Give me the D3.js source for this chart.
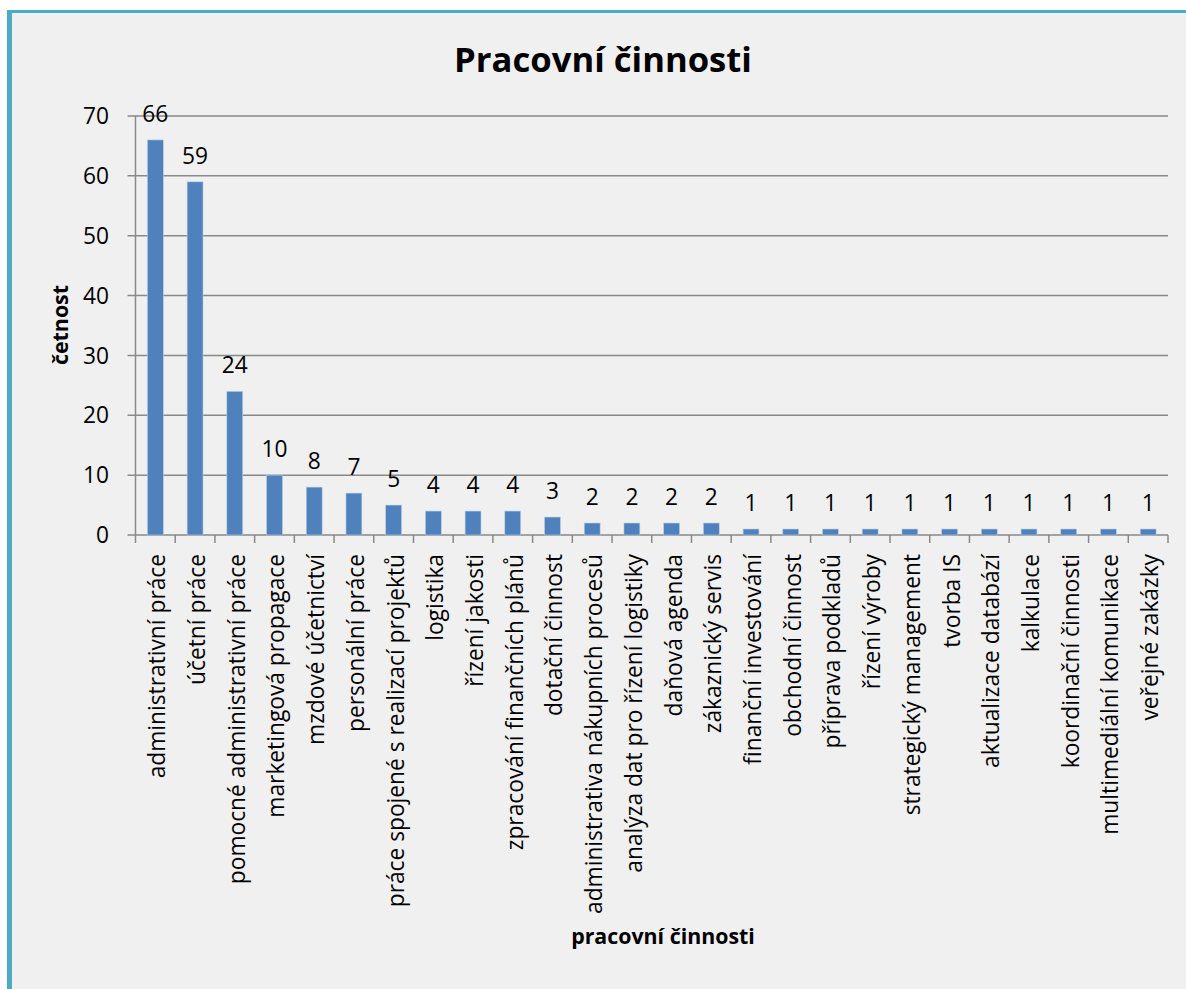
<!DOCTYPE html>
<html>
<head>
<meta charset="utf-8">
<script src="https://cdn.jsdelivr.net/npm/d3@7.9.0/dist/d3.min.js"></script>
<style>
  body { margin: 0; background: #fff; }
  svg text { font-family: "Open Sans", sans-serif; fill: #000; }
</style>
</head>
<body>
<svg id="chart" width="1186" height="989"></svg>
<script>
const categories = [
  "administrativní práce", "účetní práce", "pomocné administrativní práce",
  "marketingová propagace", "mzdové účetnictví", "personální práce",
  "práce spojené s realizací projektů", "logistika", "řízení jakosti",
  "zpracování finančních plánů", "dotační činnost", "administrativa nákupních procesů",
  "analýza dat pro řízení logistiky", "daňová agenda", "zákaznický servis",
  "finanční investování", "obchodní činnost", "příprava podkladů", "řízení výroby",
  "strategický management", "tvorba IS", "aktualizace databází", "kalkulace",
  "koordinační činnosti", "multimediální komunikace", "veřejné zakázky"
];
const values = [66, 59, 24, 10, 8, 7, 5, 4, 4, 4, 3, 2, 2, 2, 2, 1, 1, 1, 1, 1, 1, 1, 1, 1, 1, 1];
const yTicks = [0, 10, 20, 30, 40, 50, 60, 70];

const svg = d3.select("#chart");

// pick a font size so that a sample string is about the wanted width
function fitSize(text, weight, wanted) {
  let t = svg.append("text").attr("font-size", 20).attr("font-weight", weight).text(text);
  let w = t.node().getComputedTextLength();
  t.remove();
  return 20 * wanted / w;
}

const labelSize = (fitSize("administrativní práce", "normal", 218) +
                   fitSize("pomocné administrativní práce", "normal", 334) +
                   fitSize("strategický management", "normal", 266)) / 3;
const tickSize = fitSize("70", "normal", 26);
const titleSize = fitSize("Pracovní činnosti", "bold", 298);
const axisTitleSize = fitSize("četnost", "bold", 80);

// frame (open on the right and bottom, the chart runs past the window)
svg.append("rect")
  .attr("x", 8.5).attr("y", 11.5)
  .attr("width", 1300).attr("height", 1100)
  .attr("fill", "#f0f0f0")
  .attr("stroke", "#4bacc6")
  .attr("stroke-width", 3);
svg.append("line")
  .attr("x1", 9.5).attr("x2", 9.5)
  .attr("y1", 10).attr("y2", 989)
  .attr("stroke", "#4bacc6")
  .attr("stroke-width", 5);

const plotLeft = 135.5, plotRight = 1168, plotTop = 116, plotBottom = 535;

let x = d3.scaleBand().domain(categories).range([plotLeft, plotRight]).paddingInner(0.6).paddingOuter(0.3);
let y = d3.scaleLinear().domain([0, 70]).range([plotBottom, plotTop]);

// gridlines
svg.append("g").selectAll("line")
  .data(yTicks)
  .enter().append("line")
  .attr("x1", plotLeft - 8).attr("x2", plotRight)
  .attr("y1", d => y(d)).attr("y2", d => y(d))
  .attr("stroke", "#898989").attr("stroke-width", 1.5);

// y axis line
svg.append("line")
  .attr("x1", plotLeft).attr("x2", plotLeft)
  .attr("y1", plotTop).attr("y2", plotBottom)
  .attr("stroke", "#898989").attr("stroke-width", 1.5);

// y tick labels
svg.append("g").selectAll("text")
  .data(yTicks)
  .enter().append("text")
  .attr("x", 109).attr("y", d => y(d))
  .attr("dy", "0.36em")
  .attr("text-anchor", "end")
  .attr("font-size", tickSize)
  .text(d => d);

// x ticks at category boundaries
const bounds = d3.range(categories.length + 1).map(i => plotLeft + i * x.step());
svg.append("g").selectAll("line")
  .data(bounds)
  .enter().append("line")
  .attr("x1", d => d).attr("x2", d => d)
  .attr("y1", plotBottom).attr("y2", plotBottom + 8)
  .attr("stroke", "#898989").attr("stroke-width", 1.5);

// bars
svg.append("g").selectAll("rect")
  .data(values)
  .enter().append("rect")
  .attr("x", (d, i) => x(categories[i]))
  .attr("y", d => y(d))
  .attr("width", x.bandwidth())
  .attr("height", d => plotBottom - y(d))
  .attr("fill", "#4f81bd")
  .attr("stroke", "#b9cde5")
  .attr("stroke-width", 0.6);

// data labels
svg.append("g").selectAll("text")
  .data(values)
  .enter().append("text")
  .attr("x", (d, i) => x(categories[i]) + x.bandwidth() / 2)
  .attr("y", d => y(d) - 18)
  .attr("text-anchor", "middle")
  .attr("font-size", tickSize)
  .text(d => d);

// category labels
let catLabels = svg.append("g").selectAll("text")
  .data(categories)
  .enter().append("text")
  .attr("transform", d => `translate(${x(d) + x.bandwidth() / 2 + 2},554) rotate(-90)`)
  .attr("dy", "0.35em")
  .attr("text-anchor", "end")
  .attr("font-size", labelSize)
  .text(d => d);

let labelEnd = 554 + d3.max(catLabels.nodes(), n => n.getComputedTextLength());

// title
svg.append("text")
  .attr("x", 603).attr("y", 72)
  .attr("text-anchor", "middle")
  .attr("font-size", titleSize).attr("font-weight", "bold")
  .text("Pracovní činnosti");

// axis titles
svg.append("text")
  .attr("transform", "translate(68,325) rotate(-90)")
  .attr("text-anchor", "middle")
  .attr("font-size", axisTitleSize).attr("font-weight", "bold")
  .text("četnost");

svg.append("text")
  .attr("x", 663).attr("y", labelEnd + 30)
  .attr("text-anchor", "middle")
  .attr("font-size", axisTitleSize).attr("font-weight", "bold")
  .text("pracovní činnosti");
</script>
</body>
</html>
